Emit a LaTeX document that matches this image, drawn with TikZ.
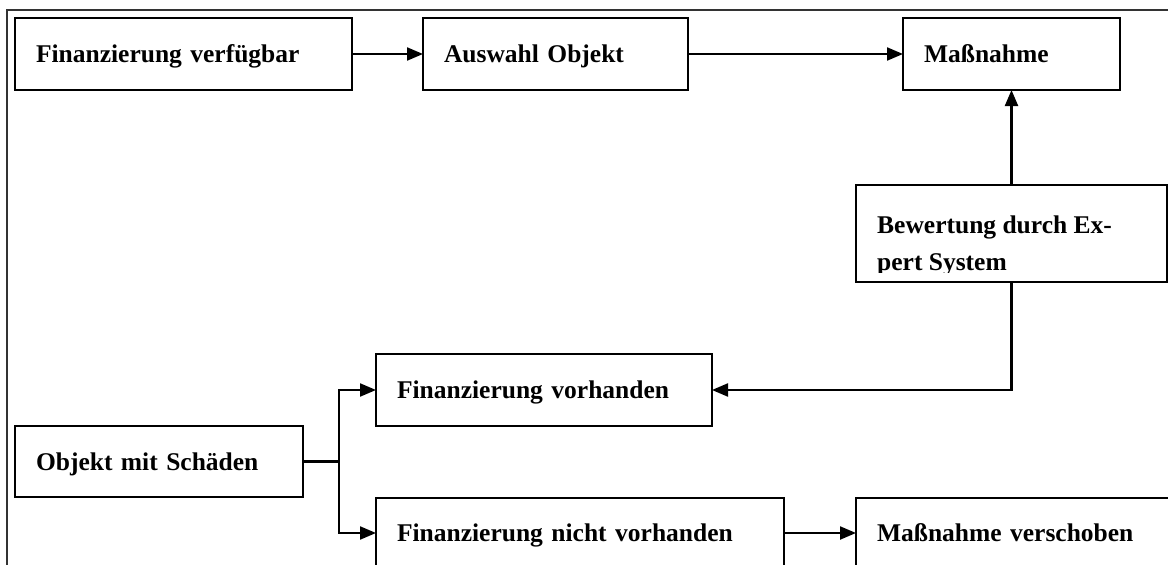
\documentclass[tikz,border=0pt]{standalone}
\usepackage{fontspec}
\setmainfont{Liberation Serif}
\usetikzlibrary{arrows.meta}
\tikzset{
  box/.style={draw=black, line width=2.2pt, outer sep=0pt, inner xsep=21pt, inner ysep=0pt,
    anchor=north west, align=left, text height=17pt, text depth=0pt,
    font=\bfseries\fontsize{25.5}{37}\selectfont},
  conn/.style={draw=black, line width=2.2pt},
  arr/.style={conn, -{Triangle[length=16pt,width=13pt]}},
  frame/.style={draw=black!80, line width=1.8pt}
}
\begin{document}
\begin{tikzpicture}[x=1pt,y=-1pt]
\useasboundingbox (0,0) rectangle (1168,565);
\clip (0,0) rectangle (1168,565);
\fill[white] (0,0) rectangle (1168,565);
% outer frame (partly visible)
\draw[frame] (7,570) -- (7,10) -- (1175,10);
% boxes
\node[box, text width=295pt, minimum height=72pt] (fv) at (15,18) {Finanzierung verfügbar};
\node[box, text width=223pt, minimum height=72pt] (aw) at (423,18) {Auswahl Objekt};
\node[box, text width=175pt, minimum height=72pt] (mn) at (903,18) {Maßnahme};
\node[box, text width=269pt, minimum height=97pt] (bw) at (856,185) {};
\begin{scope}
  \clip (858,187) rectangle (1165,272);
  \node[anchor=base west, inner sep=0pt, align=left, font=\bfseries\fontsize{25.5}{37}\selectfont] (bwt) at (877,270) {Bewertung durch Ex-\\pert System};
\end{scope}
\node[box, text width=294pt, minimum height=72pt] (fvh) at (376,354) {Finanzierung vorhanden};
\node[box, text width=246pt, minimum height=71pt] (om) at (15,426) {Objekt mit Schäden};
\node[box, text width=366pt, minimum height=70pt] (fnv) at (376,498) {Finanzierung nicht vorhanden};
\node[box, text width=278pt, minimum height=70pt] (mv) at (856,498) {Maßnahme verschoben};
% connectors
\draw[arr] (fv.east) -- (aw.west);
\draw[arr] (aw.east) -- (mn.west);
\draw[arr] (bw.north) -- (mn.south);
\draw[arr] (bw.south) |- (fvh.east);
\draw[conn] (om.east) -- ++(36,0) coordinate (j);
\draw[arr] (j) |- (fvh.west);
\draw[arr] (j) |- (fnv.west);
\draw[arr] (fnv.east) -- (mv.west);
\end{tikzpicture}
\end{document}
